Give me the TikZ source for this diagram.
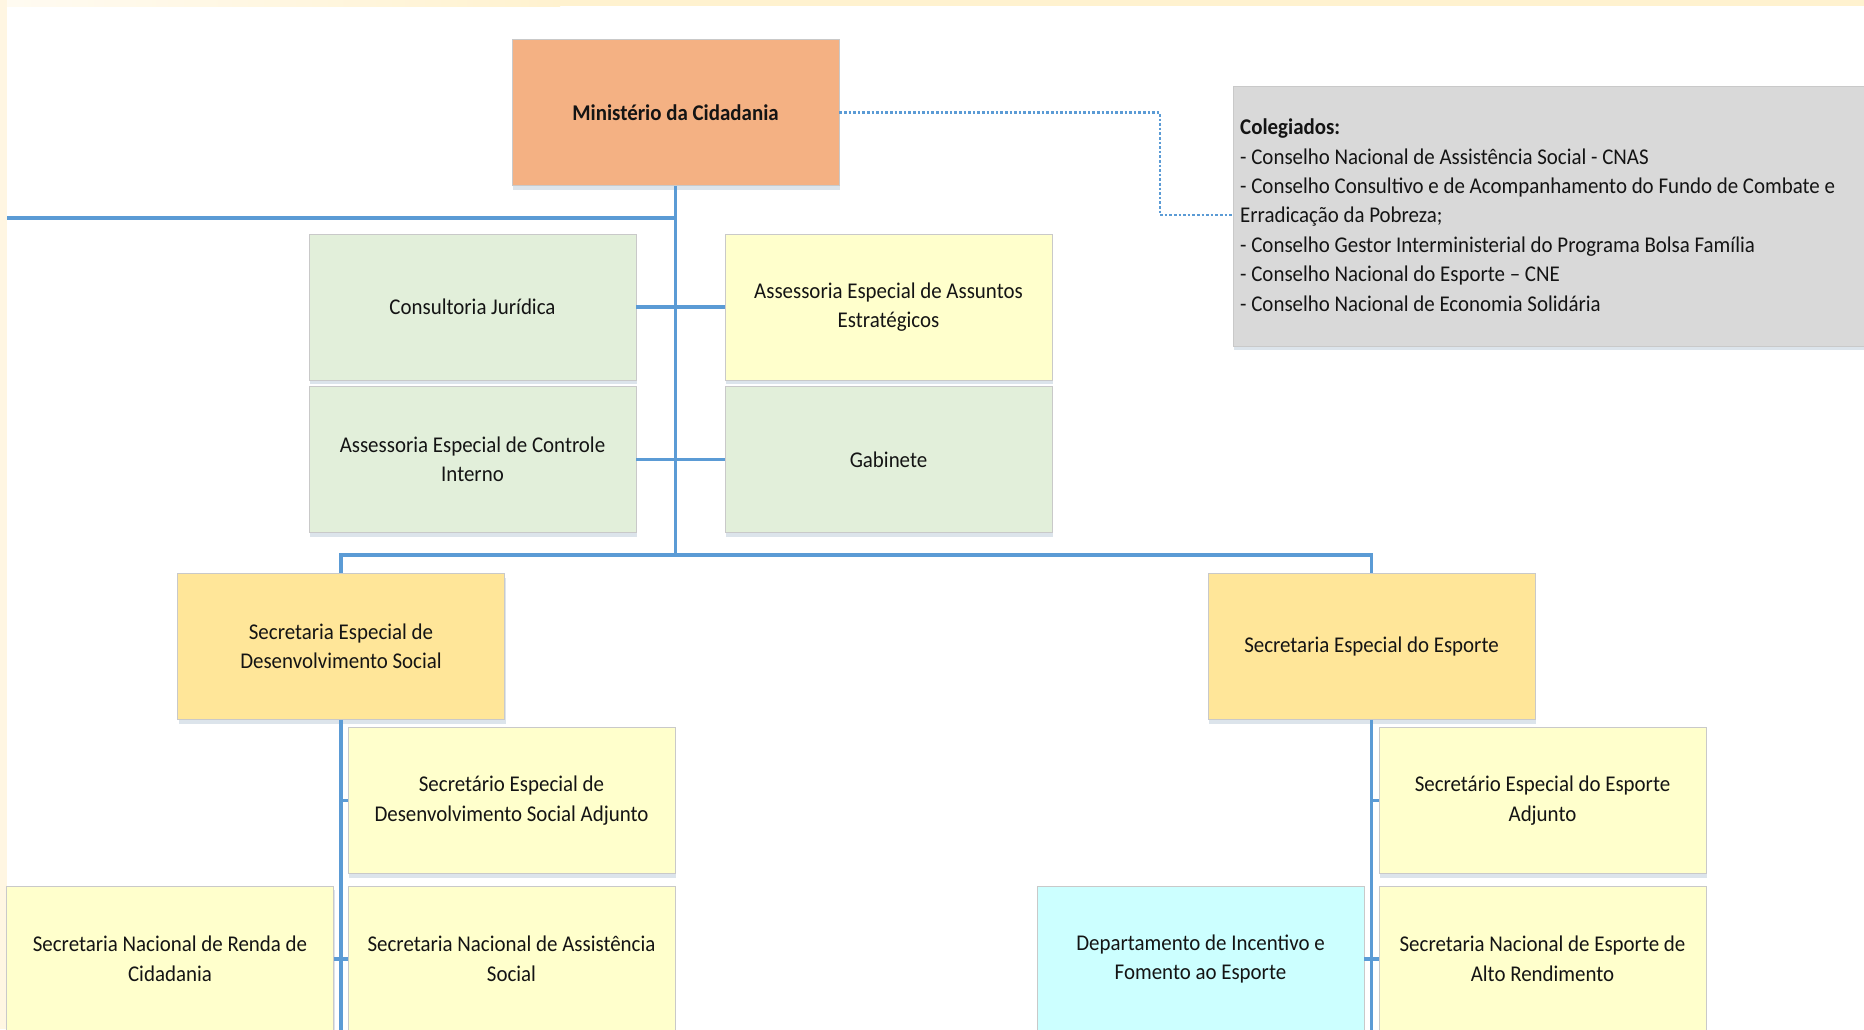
\documentclass[tikz,border=0pt]{standalone}
\usepackage{fontspec}
\setmainfont{Carlito}[FakeStretch=0.93]
\usetikzlibrary{shadows}
\definecolor{minfill}{HTML}{F4B183}
\definecolor{greenfill}{HTML}{E2EFDA}
\definecolor{yellowfill}{HTML}{FFFFCC}
\definecolor{goldfill}{HTML}{FFE699}
\definecolor{cyanfill}{HTML}{CCFFFF}
\definecolor{greyfill}{HTML}{D9D9D9}
\definecolor{lineblue}{HTML}{5B9BD5}
\definecolor{boxline}{HTML}{C9C9C9}
\definecolor{txt}{HTML}{141414}
\definecolor{shadowc}{HTML}{8EA6C0}
\definecolor{creamA}{HTML}{FFFBF2}
\definecolor{creamB}{HTML}{FFF2CF}
\definecolor{creamL}{HTML}{FFF6E2}
\begin{document}
\begin{tikzpicture}[x=1pt,y=-1pt,
  orgbox/.style={draw=boxline, line width=0.8pt, minimum width=327pt, minimum height=146pt,
    text width=305pt, align=flush center, inner sep=0pt, font=\fontsize{22.5}{29.5}\selectfont, text=txt,
    drop shadow={shadow xshift=1pt, shadow yshift=-4pt, opacity=0.3, fill=shadowc}},
  link/.style={draw=lineblue, line width=3.2pt},
  dotlink/.style={draw=lineblue, line width=2.6pt, dotted}]
\useasboundingbox (0,0) rectangle (1864,1029);
\fill[white] (0,0) rectangle (1864,1029);
\fill[left color=creamA, right color=creamB] (0,0) rectangle (560,6);
\fill[creamB] (560,0) rectangle (1864,6);
\fill[creamL] (0,0) rectangle (7,1029);

% nodes
\node[orgbox, fill=minfill, font=\fontsize{22.5}{29.5}\selectfont\bfseries] (min) at (675.5,112.5) {Ministério da Cidadania};
\node[orgbox, fill=greenfill] (cj) at (472.5,307) {Consultoria Jurídica};
\node[orgbox, fill=yellowfill] (aeae) at (888.5,307) {Assessoria Especial de Assuntos\\Estratégicos};
\node[orgbox, fill=greenfill] (aeci) at (472.5,459.5) {Assessoria Especial de Controle\\Interno};
\node[orgbox, fill=greenfill] (gab) at (888.5,459.5) {Gabinete};
\node[orgbox, fill=goldfill] (seds) at (341,646.5) {Secretaria Especial de\\Desenvolvimento Social};
\node[orgbox, fill=goldfill] (see) at (1371.5,646.5) {Secretaria Especial do Esporte};
\node[orgbox, fill=yellowfill] (sedsa) at (511.5,800.5) {Secretário Especial de\\Desenvolvimento Social Adjunto};
\node[orgbox, fill=yellowfill] (snas) at (511.5,959) {Secretaria Nacional de Assistência\\Social};
\node[orgbox, fill=yellowfill] (snrc) at (170,959) {Secretaria Nacional de Renda de\\Cidadania};
\node[orgbox, fill=yellowfill] (seea) at (1542.5,800.5) {Secretário Especial do Esporte\\Adjunto};
\node[orgbox, fill=yellowfill] (snear) at (1542.5,959) {Secretaria Nacional de Esporte de\\Alto Rendimento};
\node[orgbox, fill=cyanfill] (dife) at (1200.5,959) {Departamento de Incentivo e\\Fomento ao Esporte};

\node[draw=boxline, line width=0.8pt, fill=greyfill, minimum width=700pt, minimum height=260pt,
  inner sep=0pt, anchor=north west,
  drop shadow={shadow xshift=1pt, shadow yshift=-4pt, opacity=0.3, fill=shadowc}] (coleg) at (1233,86) {};
\node[anchor=west, align=left, inner sep=0pt, font=\fontsize{22.5}{29.4}\selectfont, text=txt] (colegtxt) at (1240,215)
  {\textbf{Colegiados:}\\
   - Conselho Nacional de Assistência Social - CNAS\\
   - Conselho Consultivo e de Acompanhamento do Fundo de Combate e\\
   Erradicação da Pobreza;\\
   - Conselho Gestor Interministerial do Programa Bolsa Família\\
   - Conselho Nacional do Esporte – CNE\\
   - Conselho Nacional de Economia Solidária};

\coordinate (leftend) at (7,218);
\coordinate (trunkbot) at (675.5,555);
\coordinate (lbot) at (341,1032);
\coordinate (rbot) at (1371.5,1032);
\coordinate (dotturn) at (1160,215);

\draw[link] (min.south) -- (trunkbot);
\draw[link] (leftend) -- (min.south |- leftend);
\draw[link] (cj.east) -- (aeae.west);
\draw[link] (aeci.east) -- (gab.west);
\draw[link] (seds.north) |- (trunkbot) -| (see.north);
\draw[link] (seds.south) -- (lbot);
\draw[link] (see.south) -- (rbot);
\draw[link] (seds.south |- sedsa.west) -- (sedsa.west);
\draw[link] (snrc.east) -- (snas.west);
\draw[link] (see.south |- seea.west) -- (seea.west);
\draw[link] (dife.east) -- (snear.west);
\draw[dotlink] (min.east) -| (dotturn) -- (coleg.west |- dotturn);
\end{tikzpicture}
\end{document}
